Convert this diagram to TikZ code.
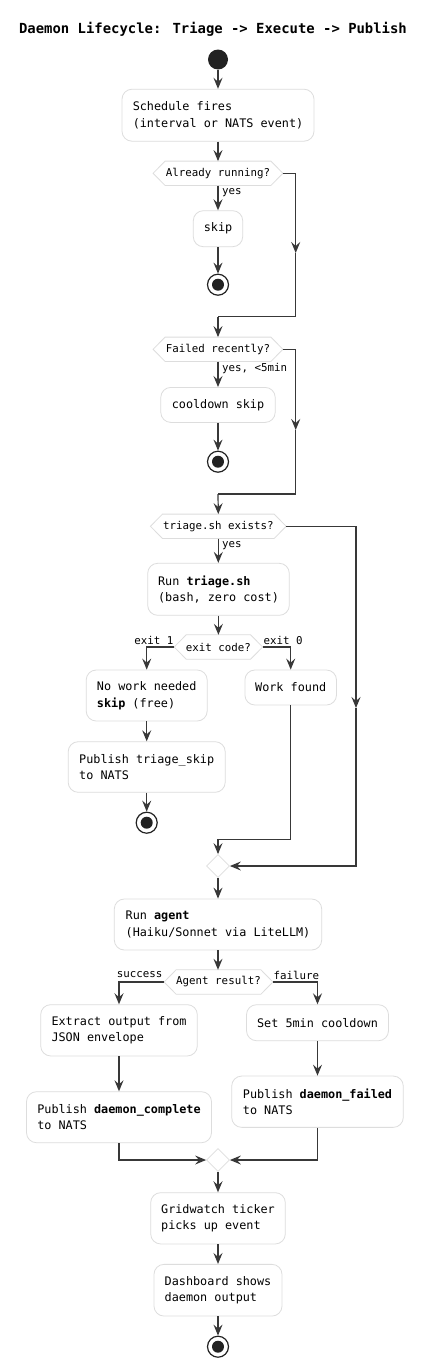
\documentclass[tikz,border=0pt]{standalone}
\usepackage{fontspec}
\setmainfont{DejaVu Sans Mono}
\usetikzlibrary{arrows.meta,shapes.geometric}
\definecolor{boxgray}{HTML}{DDDDDD}
\definecolor{linec}{HTML}{383838}
\definecolor{dark}{HTML}{222222}
\newcommand\hexdraw[1]{\draw[boxgray,line width=0.8pt] (#1.west) -- ([xshift=12pt]#1.north west) -- ([xshift=-12pt]#1.north east) -- (#1.east) -- ([xshift=-12pt]#1.south east) -- ([xshift=12pt]#1.south west) -- cycle;}
\begin{document}
\begin{tikzpicture}[x=1pt,y=-1pt,
  box/.style={draw=boxgray, fill=white, rounded corners=10pt, line width=0.8pt, align=left, inner sep=0pt, font=\fontsize{11.8}{16.5}\selectfont, text=black},
  hex/.style={inner sep=0pt, minimum height=24pt, font=\fontsize{10.8}{13}\selectfont},
  merge/.style={diamond, draw=boxgray, fill=white, line width=0.8pt, minimum width=23pt, minimum height=23pt, inner sep=0pt},
  lbl/.style={inner sep=0pt, font=\fontsize{10.8}{13}\selectfont},
  line/.style={draw=linec, line width=1.2pt},
  arr/.style={line, -{Stealth[length=11pt,width=9pt,inset=4pt]}},
  startc/.style={circle, fill=dark, minimum size=20pt, inner sep=0pt},
  stopc/.style={circle, draw=dark, line width=1.2pt, minimum size=21pt, inner sep=0pt, path picture={\fill[dark] (path picture bounding box.center) circle (6pt);}}
]
\useasboundingbox (0,0) rectangle (428,1368);
\fill[white] (0,0) rectangle (428,1368);

\node[font=\fontsize{13.9}{16}\selectfont\bfseries] (title) at (213,29) {Daemon Lifecycle: Triage -> Execute -> Publish};

\node[startc] (start) at (218,59.5) {};
\node[box, minimum width=192pt, minimum height=52pt] (b1) at (218,115.2) {Schedule fires\\(interval or NATS event)};
\node[hex, minimum width=129.4pt] (h1) at (218,173.3) {Already running?};
\hexdraw{h1}
\node[box, minimum width=49.4pt, minimum height=36pt] (skip) at (218,228.7) {skip};
\node[stopc] (s1) at (218,284.7) {};

\node[hex, minimum width=129.4pt] (h2) at (218,349.3) {Failed recently?};
\hexdraw{h2}
\node[box, minimum width=114.4pt, minimum height=35pt] (cool) at (218,404.9) {cooldown skip};
\node[stopc] (s2) at (218,461.7) {};

\node[hex, minimum width=135.3pt] (h3) at (218.3,526.3) {triage.sh exists?};
\hexdraw{h3}
\node[box, minimum width=141.6pt, minimum height=52pt] (triage) at (218.5,589.3) {Run \textbf{triage.sh}\\(bash, zero cost)};
\node[hex, minimum width=88pt] (h4) at (218.4,647) {exit code?};
\hexdraw{h4}
\node[box, minimum width=121pt, minimum height=51pt] (nowork) at (146.7,695.5) {No work needed\\\textbf{skip} (free)};
\node[box, minimum width=91.6pt, minimum height=35pt] (work) at (290.7,687.5) {Work found};
\node[box, minimum width=157pt, minimum height=50.6pt] (pubskip) at (146.7,767) {Publish triage\_skip\\to NATS};
\node[stopc] (s3) at (146.7,822.7) {};

\node[merge] (d1) at (218,866) {};
\node[box, minimum width=207.4pt, minimum height=51pt] (agent) at (218,924.5) {Run \textbf{agent}\\(Haiku/Sonnet via LiteLLM)};
\node[hex, minimum width=108.4pt] (h5) at (218.5,982) {Agent result?};
\hexdraw{h5}
\node[box, minimum width=156.6pt, minimum height=51.3pt] (extract) at (119,1030.3) {Extract output from\\JSON envelope};
\node[box, minimum width=142pt, minimum height=36pt] (setcool) at (317.5,1022.7) {Set 5min cooldown};
\node[box, minimum width=185pt, minimum height=51pt] (pubcomp) at (119,1117.2) {Publish \textbf{daemon\_complete}\\to NATS};
\node[box, minimum width=171.6pt, minimum height=51.3pt] (pubfail) at (317.5,1101.7) {Publish \textbf{daemon\_failed}\\to NATS};
\node[merge] (d2) at (218,1160) {};
\node[box, minimum width=134.6pt, minimum height=51.3pt] (grid) at (218,1218.3) {Gridwatch ticker\\picks up event};
\node[box, minimum width=128pt, minimum height=51.7pt] (dash) at (218,1290.2) {Dashboard shows\\daemon output};
\node[stopc] (s4) at (218,1346.7) {};

% coordinates for bypass routes
\coordinate (r1) at (295.7,253);
\coordinate (j1) at (218,316.7);
\coordinate (r2) at (295.7,430);
\coordinate (j2) at (218,494);
\coordinate (r3) at (356,708);
\coordinate (j3) at (218,839.3);

% connectors
\draw[arr] (start) -- (b1);
\draw[arr] (b1) -- (h1);
\draw[arr] (h1) -- (skip);
\draw[arr] (skip) -- (s1);
\draw[arr] (h1.east) -| (r1);
\draw[line] (r1) |- (j1);
\draw[arr] (j1) -- (h2.north);

\draw[arr] (h2) -- (cool);
\draw[arr] (cool) -- (s2);
\draw[arr] (h2.east) -| (r2);
\draw[line] (r2) |- (j2);
\draw[arr] (j2) -- (h3.north);

\draw[arr] (h3.south) -- (h3.south |- triage.north);
\draw[arr] (triage.south -| h4.north) -- (h4.north);
\draw[arr] (h4.west) -| (nowork.north);
\draw[arr] (h4.east) -| (work.north);
\draw[arr] (nowork) -- (pubskip);
\draw[arr] (pubskip) -- (s3);
\draw[line] (work.south) |- (j3);
\draw[arr] (j3) -- (d1.north);
\draw[arr] (h3.east) -| (r3);
\draw[arr] (r3) |- (d1.east);

\draw[arr] (d1) -- (agent);
\draw[arr] (agent.south) -- (agent.south |- h5.north);
\draw[arr] (h5.west) -| (extract.north);
\draw[arr] (h5.east) -| (setcool.north);
\draw[arr] (extract) -- (pubcomp);
\draw[arr] (setcool) -- (pubfail);
\draw[arr] (pubcomp.south) |- (d2.west);
\draw[arr] (pubfail.south) |- (d2.east);
\draw[arr] (d2) -- (grid);
\draw[arr] (grid) -- (dash);
\draw[arr] (dash) -- (s4);

% labels
\node[lbl, anchor=west] (l1) at (222,192.3) {yes};
\node[lbl, anchor=west] (l2) at (222,369) {yes, <5min};
\node[lbl, anchor=west] (l3) at (222,546) {yes};
\node[lbl, anchor=east] (l4) at (173.5,640) {exit 1};
\node[lbl, anchor=west] (l5) at (263.3,640) {exit 0};
\node[lbl, anchor=east] (l6) at (162.7,975) {success};
\node[lbl, anchor=west] (l7) at (273.3,975) {failure};
\end{tikzpicture}
\end{document}
